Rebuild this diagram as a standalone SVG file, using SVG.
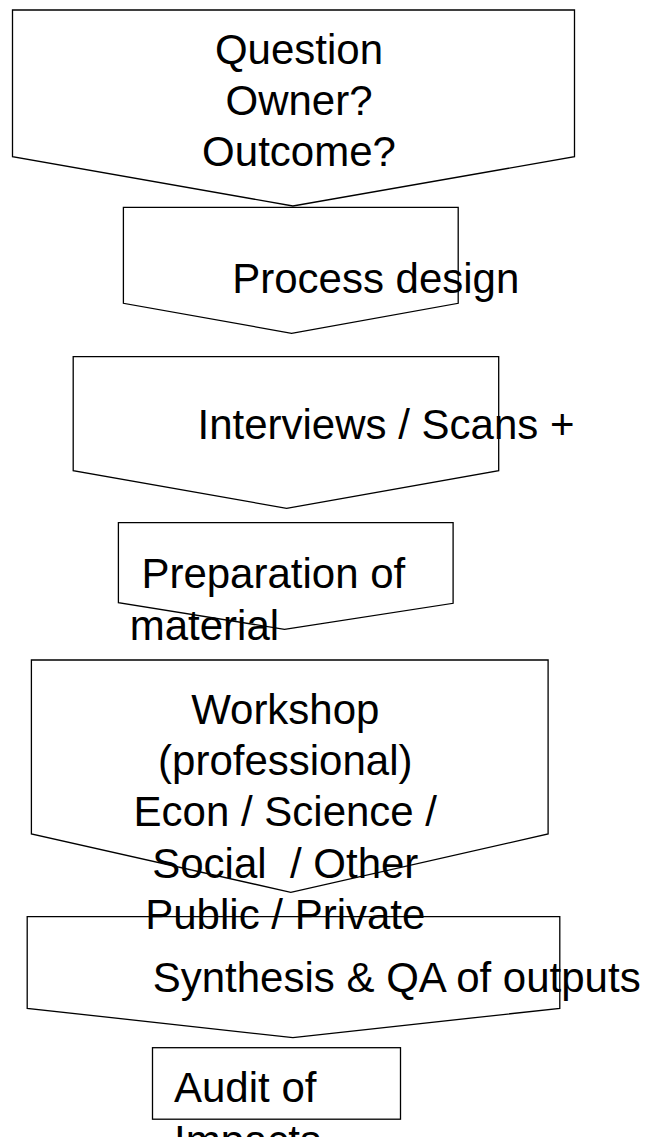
<svg xmlns="http://www.w3.org/2000/svg" width="653" height="1137" viewBox="0 0 653 1137">
<style>
.shape{fill:none;stroke:#000000;stroke-width:1.3;stroke-linejoin:miter}
.lbl{font-family:"Liberation Sans",Arial,sans-serif;font-size:42px;fill:#000000}
.mid{text-anchor:middle}
</style>
<rect x="0" y="0" width="653" height="1137" fill="#ffffff"/>
<g id="connectors"></g>
<g id="node-question">
<polygon class="shape" points="12.5,10 574.5,10 574.5,156.7 292.9,206 12.5,156.7"/>
<text class="lbl mid" x="299" y="64">Question</text>
<text class="lbl mid" x="299" y="115">Owner?</text>
<text class="lbl mid" x="299" y="166">Outcome?</text>
</g>
<g id="node-process">
<polygon class="shape" points="123.4,207.3 458.2,207.3 458.2,303.3 291.6,333.3 123.4,303.3"/>
<text class="lbl" x="232.2" y="292.7">Process design</text>
</g>
<g id="node-interviews">
<polygon class="shape" points="73.2,356.7 498.7,356.7 498.7,470.7 286.6,508.3 73.2,470.7"/>
<text class="lbl" x="197.5" y="439">Interviews / Scans +</text>
</g>
<g id="node-preparation">
<polygon class="shape" points="118.4,522.7 453.1,522.7 453.1,603.3 284.5,629.3 118.4,602.7"/>
<text class="lbl" x="141.4" y="588.3">Preparation of</text>
<text class="lbl" x="129.7" y="640">material</text>
</g>
<g id="node-workshop">
<polygon class="shape" points="31.4,660 548.1,660 548.1,834 290.8,892.3 31.4,834"/>
<text class="lbl mid" x="285.3" y="724">Workshop</text>
<text class="lbl mid" x="285.3" y="775">(professional)</text>
<text class="lbl mid" x="285.3" y="826">Econ / Science /</text>
<text class="lbl mid" x="285.3" y="878" xml:space="preserve">Social  / Other</text>
<text class="lbl mid" x="285.3" y="929">Public / Private</text>
</g>
<g id="node-synthesis">
<polygon class="shape" points="27.2,916.7 559.8,916.7 559.8,1008.3 292.9,1037.7 27.2,1008.3"/>
<text class="lbl" x="152.7" y="992.3">Synthesis &amp; QA of outputs</text>
</g>
<g id="node-audit">
<rect class="shape" x="152.5" y="1047.7" width="248" height="71.5"/>
<text class="lbl" x="174" y="1101.5">Audit of</text>
<text class="lbl" x="174" y="1155">Impacts</text>
</g>
</svg>
